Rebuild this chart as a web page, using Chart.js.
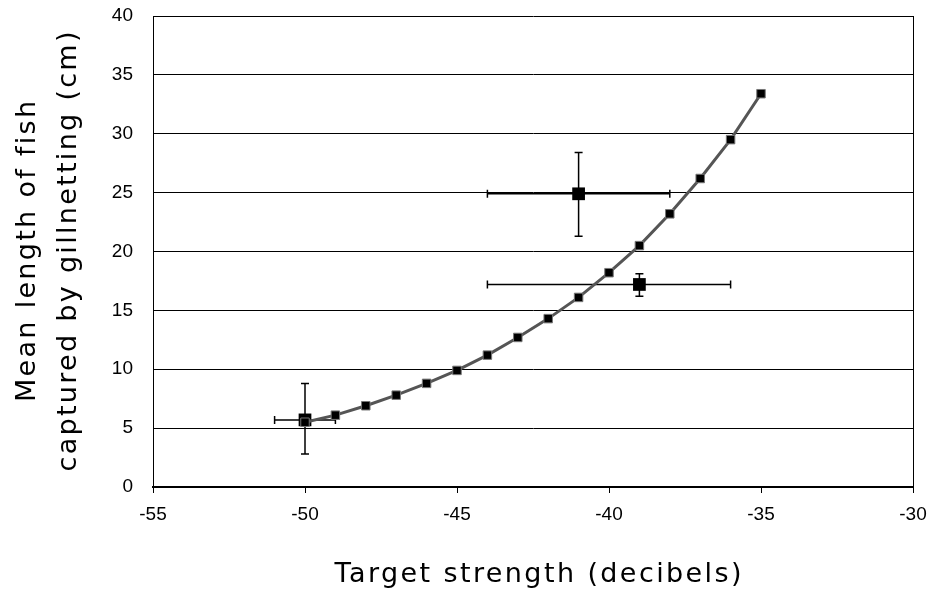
<!DOCTYPE html>
<html>
<head>
<meta charset="utf-8">
<script src="https://cdn.jsdelivr.net/npm/chart.js@4"></script>
<style>
  body { margin: 0; background: #fff; }
  #wrap { width: 932px; height: 592px; }
</style>
</head>
<body>
<div id="wrap"><canvas id="chart" width="932" height="592"></canvas></div>
<script>
// model curve: target strength vs mean length
const curveX = [-50, -49, -48, -47, -46, -45, -44, -43, -42, -41, -40, -39, -38, -37, -36, -35];
const curveY = [5.5, 6.1, 6.9, 7.8, 8.8, 9.9, 11.2, 12.7, 14.3, 16.1, 18.2, 20.5, 23.2, 26.2, 29.5, 33.4];

// gillnet observations with error bars
const obsX = [-50, -41, -39];
const obsY = [5.7, 24.9, 17.2];
const obsXLow = [-51, -44, -44];
const obsXHigh = [-49, -38, -36];
const obsYLow = [2.8, 21.3, 16.2];
const obsYHigh = [8.8, 28.4, 18.1];

const xTicks = [-55, -50, -45, -40, -35, -30];
const yTicks = [0, 5, 10, 15, 20, 25, 30, 35, 40];

const xTitle = "Target strength (decibels)";
const yTitle = ["Mean length of fish", "captured by gillnetting (cm)"];

const errorBars = {
  id: "errorBars",
  beforeDatasetsDraw(chart) {
    const {ctx, scales: {x, y}} = chart;
    const cap = 4;
    ctx.save();
    ctx.strokeStyle = "#000";
    ctx.lineWidth = 1.5;
    obsX.forEach((vx, i) => {
      const px = x.getPixelForValue(vx);
      const py = y.getPixelForValue(obsY[i]);
      const x0 = x.getPixelForValue(obsXLow[i]);
      const x1 = x.getPixelForValue(obsXHigh[i]);
      const y0 = y.getPixelForValue(obsYLow[i]);
      const y1 = y.getPixelForValue(obsYHigh[i]);
      ctx.beginPath();
      ctx.moveTo(x0, py); ctx.lineTo(x1, py);
      ctx.moveTo(x0, py - cap); ctx.lineTo(x0, py + cap);
      ctx.moveTo(x1, py - cap); ctx.lineTo(x1, py + cap);
      ctx.moveTo(px, y0); ctx.lineTo(px, y1);
      ctx.moveTo(px - cap, y0); ctx.lineTo(px + cap, y0);
      ctx.moveTo(px - cap, y1); ctx.lineTo(px + cap, y1);
      ctx.stroke();
    });
    ctx.restore();
  }
};

// draw text stretched to a given width with letter spacing, centred at (cx, baseline)
function spacedText(ctx, text, cx, by, width) {
  ctx.letterSpacing = "0px";
  const natural = ctx.measureText(text).width;
  const sp = Math.max(0, (width - natural) / (text.length - 1));
  ctx.letterSpacing = sp + "px";
  ctx.fillText(text, cx - width / 2, by);
}

// right border + axis titles
const frame = {
  id: "frame",
  afterDraw(chart) {
    const {ctx, chartArea: a} = chart;
    ctx.save();
    ctx.strokeStyle = "#000";
    ctx.lineWidth = 1;
    ctx.beginPath();
    ctx.moveTo(a.right + 0.5, a.top);
    ctx.lineTo(a.right + 0.5, a.bottom);
    ctx.stroke();

    ctx.fillStyle = "#000";
    ctx.font = "27px 'DejaVu Sans', sans-serif";
    ctx.textAlign = "left";
    ctx.textBaseline = "alphabetic";
    spacedText(ctx, xTitle, 538, 582, 407);

    const midY = (a.top + a.bottom) / 2;
    const baseX = [35, 76];
    const widths = [301, 440];
    yTitle.forEach((line, i) => {
      ctx.save();
      ctx.translate(baseX[i], midY);
      ctx.rotate(-Math.PI / 2);
      spacedText(ctx, line, 0, 0, widths[i]);
      ctx.restore();
    });
    ctx.restore();
  }
};

new Chart(document.getElementById("chart"), {
  type: "scatter",
  data: {
    datasets: [
      {
        data: curveX.map((v, i) => ({x: v, y: curveY[i]})),
        showLine: true,
        borderColor: "#555",
        borderWidth: 3,
        pointStyle: "rect",
        pointRadius: 6,
        pointBackgroundColor: "#000",
        pointBorderColor: "#777",
        pointBorderWidth: 1
      },
      {
        data: obsX.map((v, i) => ({x: v, y: obsY[i]})),
        pointStyle: "rect",
        pointRadius: 9,
        pointBackgroundColor: "#000",
        pointBorderColor: "#000",
        pointBorderWidth: 0
      }
    ]
  },
  options: {
    responsive: false,
    animation: false,
    layout: {padding: {top: 16, right: 19, left: 0, bottom: 0}},
    plugins: {legend: {display: false}, tooltip: {enabled: false}},
    scales: {
      x: {
        type: "linear",
        min: -55,
        max: -30,
        afterBuildTicks: s => { s.ticks = xTicks.map(v => ({value: v})); },
        afterFit: s => { s.height = 105; s.paddingLeft = 0; s.paddingRight = 0; },
        border: {color: "#000", width: 2},
        grid: {drawOnChartArea: false, color: "#000", tickLength: 6},
        ticks: {color: "#000", padding: 10, font: {family: "Liberation Sans", size: 19}}
      },
      y: {
        min: 0,
        max: 40,
        afterBuildTicks: s => { s.ticks = yTicks.map(v => ({value: v})); },
        afterFit: s => { s.width = 153; s.paddingTop = 0; s.paddingBottom = 0; },
        border: {color: "#000", width: 1},
        grid: {color: "#000", lineWidth: 1, drawTicks: false},
        ticks: {color: "#000", padding: 20, font: {family: "Liberation Sans", size: 19}}
      }
    }
  },
  plugins: [errorBars, frame]
});
</script>
</body>
</html>
